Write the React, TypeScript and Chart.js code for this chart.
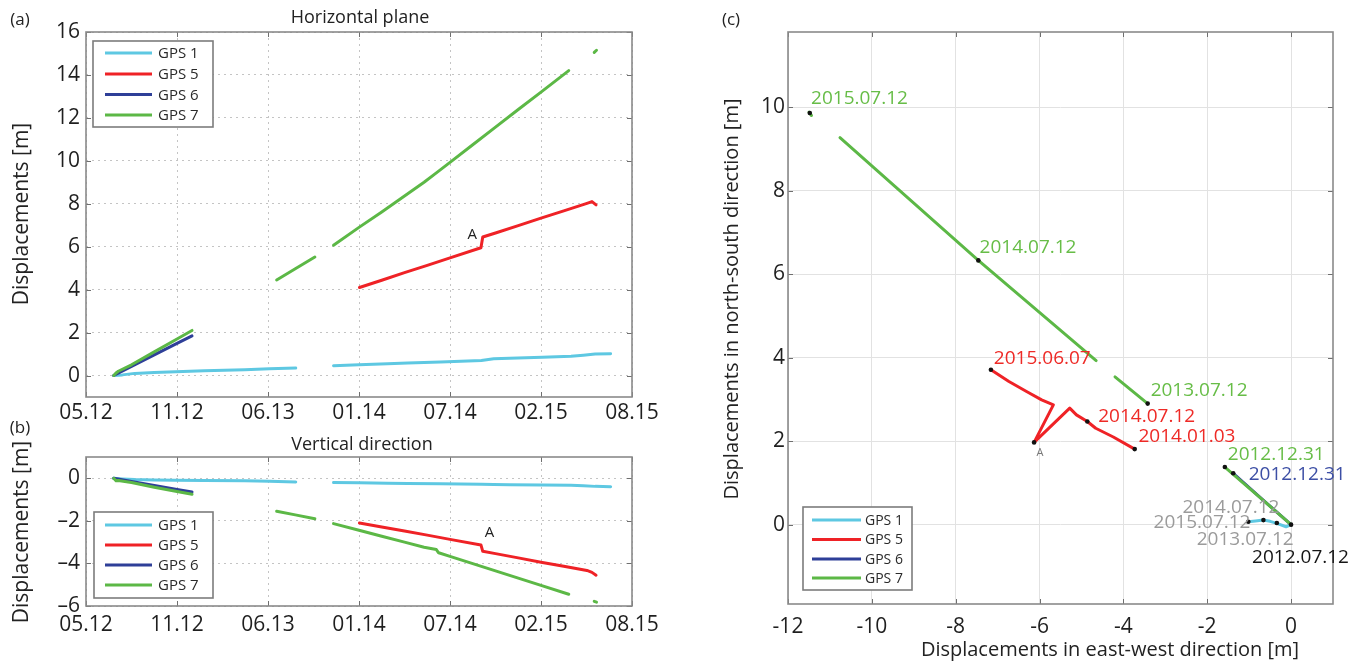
import { useEffect, useRef } from 'react';
import { Chart, registerables } from 'chart.js';

Chart.register(...registerables);

const FONT = '"Open Sans", "Noto Sans", sans-serif';

// ---------- axes ----------
// time axis: days since 2012-05-12, one labelled tick every 200 days
const timeTickDays = [0, 200, 400, 600, 800, 1000, 1200];
const timeTickLabels = ['05.12', '11.12', '06.13', '01.14', '07.14', '02.15', '08.15'];
const horizTicks = [0, 2, 4, 6, 8, 10, 12, 14, 16];
const vertTicks = [-6, -4, -2, 0];
const eastTicks = [-12, -10, -8, -6, -4, -2, 0];
const northTicks = [0, 2, 4, 6, 8, 10];

const seriesNames = ['GPS 1', 'GPS 5', 'GPS 6', 'GPS 7'];
const seriesColors = ['#5ec8e2', '#ef2226', '#2e3f98', '#5cb846'];

// ---------- (a)/(b) time series: days since 2012-05-12 ----------
const gps1Days = [61, 80, 107, 150, 197, 260, 349, 403, 461, 500, 544, 600, 663, 707, 779, 869, 896, 931, 1003, 1066, 1093, 1119, 1153];
const gps1Horiz = [0, 0.03, 0.1, 0.14, 0.18, 0.22, 0.27, 0.32, 0.35, null, 0.46, 0.5, 0.55, 0.58, 0.63, 0.7, 0.78, 0.8, 0.85, 0.9, 0.95, 1.0, 1.02];
const gps1Vert = [0, -0.03, -0.06, -0.08, -0.09, -0.1, -0.12, -0.14, -0.17, null, -0.2, -0.21, -0.23, -0.24, -0.26, -0.28, -0.29, -0.3, -0.31, -0.33, -0.35, -0.38, -0.4];

const gps5Days = [601, 650, 700, 750, 800, 868, 872, 900, 950, 1000, 1050, 1101, 1112, 1121];
const gps5Horiz = [4.1, 4.44, 4.79, 5.13, 5.48, 5.95, 6.45, 6.64, 6.98, 7.33, 7.67, 8.02, 8.1, 7.95];
const gps5Vert = [-2.1, -2.29, -2.48, -2.67, -2.87, -3.13, -3.43, -3.54, -3.74, -3.94, -4.13, -4.33, -4.42, -4.55];

const gps6Days = [61, 100, 150, 200, 233];
const gps6Horiz = [0, 0.42, 0.96, 1.5, 1.85];
const gps6Vert = [0, -0.15, -0.34, -0.52, -0.64];

const gps7Days = [61, 66, 71, 100, 150, 200, 233, 330, 419, 460, 503, 520, 544, 600, 650, 700, 743, 770, 775, 800, 850, 900, 950, 1000, 1061, 1090, 1117, 1122];
const gps7Horiz = [0, 0.12, 0.2, 0.5, 1.1, 1.7, 2.1, null, 4.45, 4.97, 5.52, null, 6.07, 6.9, 7.62, 8.36, 9.0, 9.44, 9.52, 9.93, 10.75, 11.57, 12.39, 13.2, 14.2, null, 15.05, 15.15];
const gps7Vert = [0, -0.12, -0.1, -0.2, -0.42, -0.62, -0.75, null, -1.55, -1.72, -1.9, null, -2.13, -2.44, -2.72, -3.0, -3.24, -3.35, -3.5, -3.67, -4.01, -4.35, -4.69, -5.03, -5.45, null, -5.78, -5.82];

// ---------- (c) trajectories (east-west, north-south) ----------
const gps1East = [0, -0.12, -0.34, -0.5, -0.66, -0.85, -1.02];
const gps1North = [0, -0.05, 0.03, 0.08, 0.11, 0.09, 0.07];
const gps5East = [-3.73, -4.24, -4.66, -4.86, -5.12, -5.28, -6.13, -5.67, -5.95, -6.31, -6.73, -7.16];
const gps5North = [1.81, 2.1, 2.31, 2.47, 2.63, 2.79, 1.97, 2.87, 2.99, 3.19, 3.43, 3.71];
const gps6East = [0, -0.7, -1.38];
const gps6North = [0, 0.62, 1.23];
const gps7East = [0, -0.8, -1.58, null, -3.42, -4.2, null, -4.65, -7.46, -10.76, null, -11.44, -11.5];
const gps7North = [0, 0.7, 1.38, null, 2.9, 3.54, null, 3.93, 6.33, 9.27, null, 9.8, 9.88];
const markerEast = [-11.48, -7.46, -3.42, -7.16, -4.86, -3.73, -6.13, -1.58, -1.38, -0.34, -0.66, -1.02, 0];
const markerNorth = [9.86, 6.33, 2.9, 3.71, 2.47, 1.81, 1.97, 1.38, 1.23, 0.04, 0.11, 0.07, 0];

const dateLabelText = ['2015.07.12', '2014.07.12', '2015.06.07', '2013.07.12', '2014.07.12', '2014.01.03', '2012.12.31', '2012.12.31', '2014.07.12', '2015.07.12', '2013.07.12', '2012.07.12'];
const dateLabelEast = [-11.45, -7.43, -7.09, -3.35, -4.6, -3.64, -1.51, -1.01, -2.59, -3.28, -2.25, -0.93];
const dateLabelNorth = [10.2, 6.64, 3.98, 3.22, 2.6, 2.12, 1.69, 1.21, 0.42, 0.04, -0.35, -0.78];
const LBL_GREEN = '#67bd47';
const LBL_RED = '#ee2a26';
const LBL_BLUE = '#3d4fa5';
const LBL_GRAY = '#9b9b9b';
const LBL_BLACK = '#151515';
const dateLabelColor = [LBL_GREEN, LBL_GREEN, LBL_RED, LBL_GREEN, LBL_RED, LBL_RED, LBL_GREEN, LBL_BLUE, LBL_GRAY, LBL_GRAY, LBL_GRAY, LBL_BLACK];

// ---------- helpers ----------
type TextItem = {
  text: string; x: number; y: number; size: number; color?: string;
  align?: CanvasTextAlign; rotate?: boolean; data?: boolean;
};
type LegendBox = {
  left: number; top: number; right: number; bottom: number;
  rows: number[]; lineX1: number; lineX2: number; textX: number; size: number;
};

function drawText(ctx: CanvasRenderingContext2D, t: TextItem, x: number, y: number) {
  ctx.save();
  ctx.font = `${t.size}px ${FONT}`;
  ctx.fillStyle = t.color || '#222';
  ctx.textAlign = t.align || 'center';
  ctx.textBaseline = 'middle';
  if (t.rotate) {
    ctx.translate(x, y);
    ctx.rotate(-Math.PI / 2);
    ctx.fillText(t.text, 0, 0);
  } else {
    ctx.fillText(t.text, x, y);
  }
  ctx.restore();
}

function makeDecor(cfg: { texts: TextItem[]; legend: LegendBox; tickLen: number }) {
  return {
    id: 'decor',
    afterDraw(chart: any) {
      const ctx: CanvasRenderingContext2D = chart.ctx;
      const a = chart.chartArea;
      const xs = chart.scales.x;
      const ys = chart.scales.y;
      ctx.save();
      // inner tick marks
      ctx.strokeStyle = '#6f6f6f';
      ctx.lineWidth = 1;
      ctx.beginPath();
      xs.ticks.forEach((t: any) => {
        const px = Math.round(xs.getPixelForValue(t.value)) + 0.5;
        ctx.moveTo(px, a.bottom); ctx.lineTo(px, a.bottom - cfg.tickLen);
        ctx.moveTo(px, a.top); ctx.lineTo(px, a.top + cfg.tickLen);
      });
      ys.ticks.forEach((t: any) => {
        const py = Math.round(ys.getPixelForValue(t.value)) + 0.5;
        ctx.moveTo(a.left, py); ctx.lineTo(a.left + cfg.tickLen, py);
        ctx.moveTo(a.right, py); ctx.lineTo(a.right - cfg.tickLen, py);
      });
      ctx.stroke();
      // frame
      ctx.strokeStyle = '#8a8a8a';
      ctx.lineWidth = 1.6;
      ctx.strokeRect(a.left, a.top, a.right - a.left, a.bottom - a.top);
      // legend
      const L = cfg.legend;
      ctx.fillStyle = '#fff';
      ctx.fillRect(L.left, L.top, L.right - L.left, L.bottom - L.top);
      ctx.strokeStyle = '#7c7c7c';
      ctx.lineWidth = 1.6;
      ctx.strokeRect(L.left, L.top, L.right - L.left, L.bottom - L.top);
      seriesNames.forEach((name, i) => {
        ctx.strokeStyle = seriesColors[i];
        ctx.lineWidth = 3;
        ctx.beginPath();
        ctx.moveTo(L.lineX1, L.rows[i]);
        ctx.lineTo(L.lineX2, L.rows[i]);
        ctx.stroke();
        drawText(ctx, { text: name, x: 0, y: 0, size: L.size, color: '#2a2a2a', align: 'left' }, L.textX, L.rows[i] + 1);
      });
      ctx.restore();
      cfg.texts.forEach((t) => {
        const x = t.data ? xs.getPixelForValue(t.x) : t.x;
        const y = t.data ? ys.getPixelForValue(t.y) : t.y;
        drawText(ctx, t, x, y);
      });
    },
  };
}

const tickFont = { family: FONT, size: 21 };
const tickColor = '#1f1f1f';

function timeChartConfig(
  values: (number | null)[][],
  yMin: number, yMax: number, yTicks: number[],
  padTop: number, padBottom: number, xLabelPad: number,
  texts: TextItem[], legend: LegendBox, minusSign: string,
) {
  const days = [gps1Days, gps5Days, gps6Days, gps7Days];
  return {
    type: 'line' as const,
    data: {
      datasets: seriesNames.map((name, k) => ({
        label: name,
        data: days[k].map((d, i) => ({ x: d, y: values[k][i] })),
        borderColor: seriesColors[k],
        backgroundColor: seriesColors[k],
        borderWidth: 3,
        borderJoinStyle: 'round' as const,
        borderCapStyle: 'round' as const,
        pointRadius: 0,
        fill: false,
        spanGaps: false,
        tension: 0,
        order: 3 - k,
      })),
    },
    options: {
      responsive: false,
      animation: false as const,
      devicePixelRatio: 1,
      events: [] as any[],
      layout: { padding: { left: 0, top: padTop, right: 728, bottom: padBottom } },
      plugins: { legend: { display: false }, tooltip: { enabled: false }, title: { display: false } },
      scales: {
        x: {
          type: 'linear' as const,
          min: 0,
          max: 1200,
          afterFit: (s: any) => { s.height = 30; },
          afterBuildTicks: (s: any) => { s.ticks = timeTickDays.map((v) => ({ value: v })); },
          ticks: {
            autoSkip: false, maxRotation: 0, padding: xLabelPad, font: tickFont, color: tickColor,
            callback: (v: any) => timeTickLabels[timeTickDays.indexOf(Number(v))] ?? '',
          },
          grid: { color: '#c4c4c4', lineWidth: 1, drawTicks: false },
          border: { display: false, dash: [2, 4] },
        },
        y: {
          type: 'linear' as const,
          min: yMin,
          max: yMax,
          afterFit: (s: any) => { s.width = 86; },
          afterBuildTicks: (s: any) => { s.ticks = yTicks.map((v) => ({ value: v })); },
          ticks: {
            padding: 6, font: tickFont, color: tickColor,
            callback: (v: any) => (Number(v) < 0 ? minusSign + String(Math.abs(Number(v))) : String(v)),
          },
          grid: { color: '#c4c4c4', lineWidth: 1, drawTicks: false },
          border: { display: false, dash: [2, 4] },
        },
      },
    },
    plugins: [makeDecor({ texts, legend, tickLen: 5 })],
  };
}

function configA() {
  return timeChartConfig(
    [gps1Horiz, gps5Horiz, gps6Horiz, gps7Horiz],
    -1, 16, horizTicks, 32, 240, 3,
    [
      { text: '(a)', x: 20, y: 20, size: 17 },
      { text: 'Horizontal plane', x: 360, y: 18, size: 18 },
      { text: 'Displacements [m]', x: 22, y: 214, size: 21, rotate: true },
      { text: 'A', x: 849, y: 6.55, size: 15, data: true },
    ],
    { left: 93, top: 41, right: 213, bottom: 127, rows: [53, 74, 94.5, 115], lineX1: 105, lineX2: 152, textX: 158, size: 15 },
    '-',
  );
}

function configB() {
  return timeChartConfig(
    [gps1Vert, gps5Vert, gps6Vert, gps7Vert],
    -6, 1, vertTicks, 457, 31, 6,
    [
      { text: '(b)', x: 20, y: 428, size: 17 },
      { text: 'Vertical direction', x: 362, y: 445, size: 18 },
      { text: 'Displacements [m]', x: 22, y: 532, size: 21, rotate: true },
      { text: 'A', x: 887, y: -2.56, size: 15, data: true },
    ],
    { left: 94, top: 512, right: 213, bottom: 598, rows: [525, 545, 565, 585], lineX1: 105, lineX2: 152, textX: 158, size: 15 },
    '–',
  );
}

function configC() {
  const east = [gps1East, gps5East, gps6East, gps7East];
  const north = [gps1North, gps5North, gps6North, gps7North];
  const labelTexts: TextItem[] = dateLabelText.map((t, i) => ({
    text: t, x: dateLabelEast[i], y: dateLabelNorth[i], size: 19, color: dateLabelColor[i], align: 'left' as CanvasTextAlign, data: true,
  }));
  return {
    type: 'scatter' as const,
    data: {
      datasets: [
        ...seriesNames.map((name, k) => ({
          label: name,
          data: east[k].map((e, i) => ({ x: e, y: north[k][i] })),
          borderColor: seriesColors[k],
          backgroundColor: seriesColors[k],
          borderWidth: 3,
          borderJoinStyle: 'round' as const,
          borderCapStyle: 'round' as const,
          pointRadius: 0,
          showLine: true,
          spanGaps: false,
          order: 3 - k,
        })),
        {
          label: 'dates',
          data: markerEast.map((e, i) => ({ x: e, y: markerNorth[i] })),
          borderColor: '#111',
          backgroundColor: '#111',
          borderWidth: 0,
          pointRadius: 2.3,
          showLine: false,
          order: -1,
        },
      ],
    },
    options: {
      responsive: false,
      animation: false as const,
      devicePixelRatio: 1,
      events: [] as any[],
      layout: { padding: { left: 700, top: 32, right: 27, bottom: 33 } },
      plugins: { legend: { display: false }, tooltip: { enabled: false }, title: { display: false } },
      scales: {
        x: {
          type: 'linear' as const,
          min: -12,
          max: 1,
          afterFit: (s: any) => { s.height = 30; },
          afterBuildTicks: (s: any) => { s.ticks = eastTicks.map((v) => ({ value: v })); },
          ticks: { autoSkip: false, maxRotation: 0, padding: 10, font: tickFont, color: tickColor, callback: (v: any) => String(v) },
          grid: { color: '#e2e2e2', lineWidth: 1, drawTicks: false },
          border: { display: false },
        },
        y: {
          type: 'linear' as const,
          min: -1.9,
          max: 11.8,
          afterFit: (s: any) => { s.width = 88; },
          afterBuildTicks: (s: any) => { s.ticks = northTicks.map((v) => ({ value: v })); },
          ticks: { padding: 3, font: tickFont, color: tickColor, callback: (v: any) => String(v) },
          grid: { color: '#e2e2e2', lineWidth: 1, drawTicks: false },
          border: { display: false },
        },
      },
    },
    plugins: [
      makeDecor({
        texts: [
          { text: '(c)', x: 731, y: 20, size: 17 },
          { text: 'Displacements in north-south direction [m]', x: 732, y: 299, size: 20, rotate: true },
          { text: 'Displacements in east-west direction [m]', x: 1110, y: 650, size: 20 },
          ...labelTexts,
          { text: 'A', x: -5.99, y: 1.71, size: 11, color: '#777', data: true },
        ],
        legend: { left: 803, top: 507, right: 912, bottom: 590, rows: [520, 539.5, 559, 578], lineX1: 812, lineX2: 861, textX: 865, size: 14 },
        tickLen: 5,
      }),
    ],
  };
}

export default function App() {
  const refA = useRef<HTMLCanvasElement>(null);
  const refB = useRef<HTMLCanvasElement>(null);
  const refC = useRef<HTMLCanvasElement>(null);

  useEffect(() => {
    const charts = [
      new Chart(refA.current as HTMLCanvasElement, configA() as any),
      new Chart(refB.current as HTMLCanvasElement, configB() as any),
      new Chart(refC.current as HTMLCanvasElement, configC() as any),
    ];
    return () => charts.forEach((c) => c.destroy());
  }, []);

  const canvasStyle = { position: 'absolute' as const, left: 0, top: 0, width: 1360, height: 667 };
  return (
    <div style={{ position: 'fixed', left: 0, top: 0, width: 1360, height: 667, background: '#fff', overflow: 'hidden' }}>
      <canvas ref={refA} width={1360} height={667} style={canvasStyle} />
      <canvas ref={refB} width={1360} height={667} style={canvasStyle} />
      <canvas ref={refC} width={1360} height={667} style={canvasStyle} />
    </div>
  );
}
